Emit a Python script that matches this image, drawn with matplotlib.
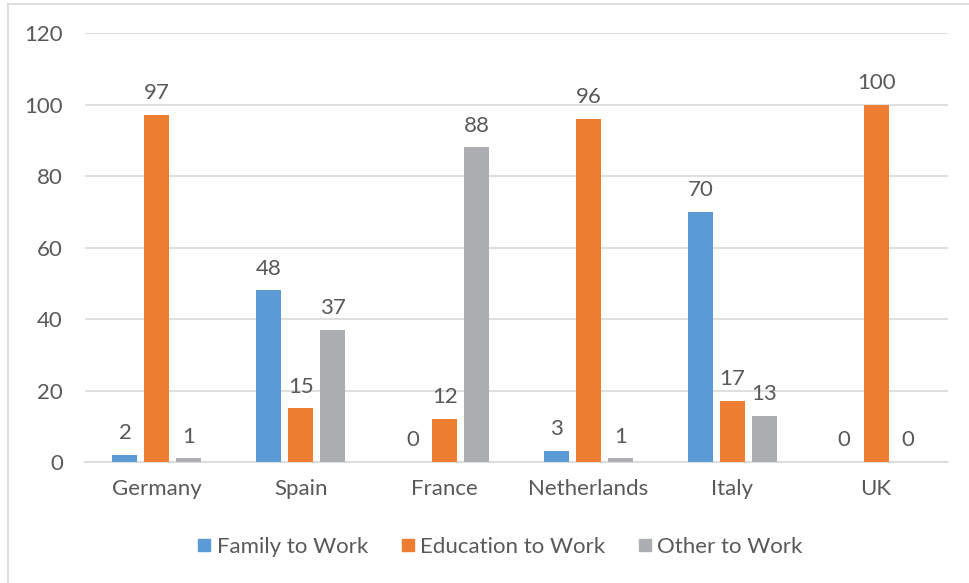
import numpy as np
import matplotlib.pyplot as plt
from matplotlib.lines import Line2D

countries = ['Germany', 'Spain', 'France', 'Netherlands', 'Italy', 'UK']
family_to_work = [2, 48, 0, 3, 70, 0]
education_to_work = [97, 15, 12, 96, 17, 100]
other_to_work = [1, 37, 88, 1, 13, 0]
series_names = ['Family to Work', 'Education to Work', 'Other to Work']
colors = ['#5B9BD5', '#ED7D31', '#ADAEB1']
text_color = '#595959'

plt.rcParams['font.family'] = ['Lato', 'DejaVu Sans']

W, H = 969, 583
fig = plt.figure(figsize=(W / 100, H / 100), dpi=100)
ax = fig.add_axes([85 / W, 1 - 462 / H, (948 - 85) / W, (462 - 33) / H])

x = np.arange(len(countries))
width = 0.174
step = 0.222
for i, vals in enumerate([family_to_work, education_to_work, other_to_work]):
    pos = x + (i - 1) * step
    ax.bar(pos, vals, width, color=colors[i], label=series_names[i], zorder=3)
    for p, v in zip(pos, vals):
        ax.text(p, v + 3.3, str(v), ha='center', va='bottom',
                fontsize=16, color=text_color)

ax.set_xlim(-0.5, len(countries) - 0.5)
ax.set_ylim(0, 120)
ax.set_yticks(range(0, 121, 20))
ax.set_xticks(x)
ax.set_xticklabels(countries)
ax.tick_params(axis='both', length=0, labelsize=16, colors=text_color)
ax.tick_params(axis='y', pad=16)
ax.tick_params(axis='x', pad=12)
ax.grid(axis='y', color='#D9D9D9', linewidth=1.2, zorder=0)
for s in ['top', 'right', 'left']:
    ax.spines[s].set_visible(False)
ax.spines['bottom'].set_color('#D9D9D9')
ax.spines['bottom'].set_linewidth(1.2)

handles = [Line2D([], [], marker='s', linestyle='none', markersize=8,
                  markerfacecolor=c, markeredgecolor=c) for c in colors]
fig.legend(handles, series_names, loc='center', bbox_to_anchor=(498 / W, 1 - 547 / H),
           ncol=3, frameon=False, fontsize=16, labelcolor=text_color,
           handletextpad=0.05, columnspacing=1.3, handlelength=1.0)

# chart border
fig.add_artist(Line2D([8 / W, 8 / W], [0, 1 - 4 / H], color='#D9D9D9', linewidth=1.2))
fig.add_artist(Line2D([8 / W, 1], [1 - 4 / H, 1 - 4 / H], color='#D9D9D9', linewidth=1.2))

plt.savefig('out.png', dpi=100)
